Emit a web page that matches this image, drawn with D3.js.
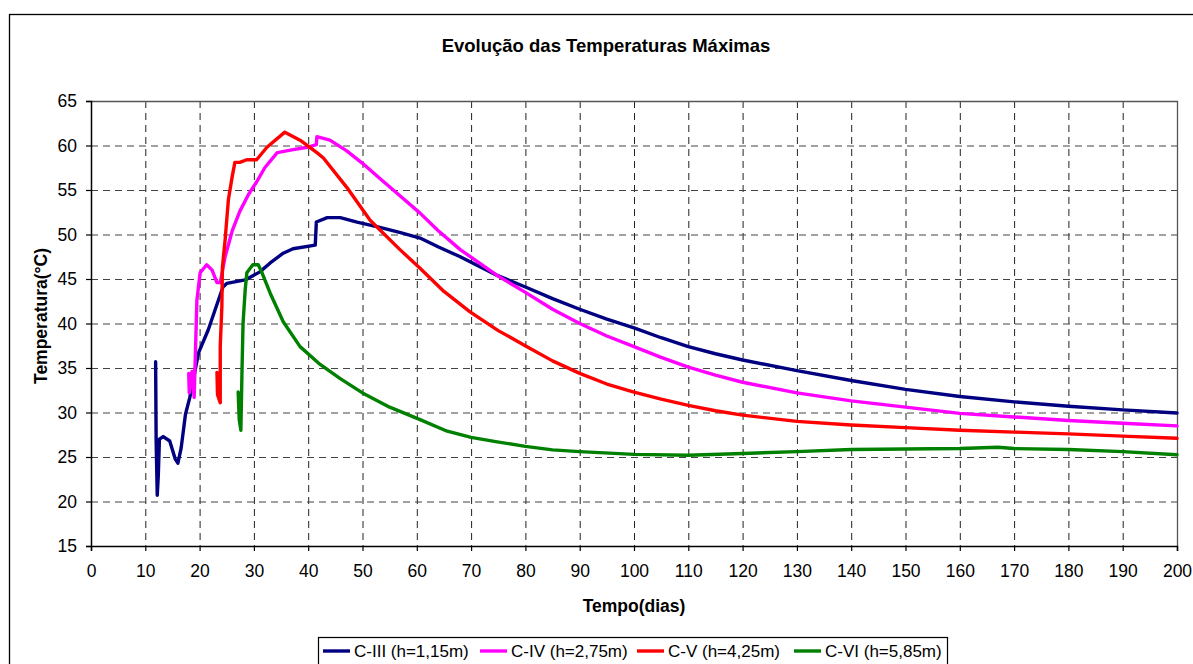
<!DOCTYPE html>
<html>
<head>
<meta charset="utf-8">
<script src="https://cdn.jsdelivr.net/npm/d3@7"></script>
<style>
  html, body { margin: 0; padding: 0; background: #fff; }
  svg { display: block; font-family: "Liberation Sans", Arial, sans-serif; }
</style>
</head>
<body>
<svg id="chart" width="1193" height="664"></svg>
<script>
// Tick values
const xTicks = d3.range(0, 201, 10);
const yTicks = d3.range(15, 66, 5);

// Series: [tempo (dias), temperatura (°C)]
const cIII = [
  [11.9,35.7],[12.0,26.7],[12.2,20.7],[12.4,23.0],[12.6,27.0],[13.3,27.3],[14.5,26.8],
  [15.5,24.8],[16.0,24.3],[16.6,26.0],[17.4,29.8],[18.2,31.7],[19.8,36.7],[21.6,39.3],
  [23.0,41.8],[24.3,44.1],[25.0,44.5],[28.4,44.9],[31.1,45.8],[33.0,46.8],[35.4,47.9],
  [37.2,48.4],[41.3,48.8],[41.5,51.4],[43.5,51.9],[45.9,51.9],[49.0,51.4],[53.2,50.8],
  [57,50.2],[60.6,49.6],[64,48.6],[68.0,47.5],[74.8,45.4],[80,44.1],[85,42.8],[90,41.6],
  [95,40.5],[100,39.5],[105,38.4],[110,37.4],[115,36.6],[120,35.9],[130,34.7],[140,33.6],
  [150,32.6],[160,31.8],[170,31.2],[180,30.7],[190,30.3],[200,29.95]
];
const cIV = [
  [18.0,34.4],[18.1,32.2],[18.6,34.6],[19.0,31.7],[19.5,42.6],[20.1,45.7],[21.3,46.6],
  [22.3,46.0],[23.2,44.6],[23.8,44.6],[24.7,47.5],[26.0,50.4],[27.4,52.6],[29.0,54.5],
  [30.5,55.9],[32.0,57.5],[34.3,59.2],[37,59.5],[39.8,59.8],[41.5,60.1],[41.6,61.0],
  [44.0,60.6],[47.1,59.4],[50,58.0],[53.2,56.3],[57,54.3],[60.6,52.4],[64,50.4],
  [68.0,48.3],[74.8,45.4],[80,43.5],[85,41.6],[90,40.0],[95,38.6],[100,37.4],[105,36.2],
  [110,35.1],[115,34.2],[120,33.4],[130,32.2],[140,31.3],[150,30.6],[160,29.9],[170,29.5],
  [180,29.1],[190,28.8],[200,28.5]
];
const cV = [
  [23.2,34.5],[23.3,32.0],[23.8,31.1],[23.8,37.4],[24.1,41.9],[24.2,46.3],[24.7,49.4],
  [25.3,53.9],[26.0,56.5],[26.5,58.1],[27.4,58.1],[28.7,58.4],[30.5,58.4],[32.4,59.8],
  [35.7,61.5],[38.5,60.6],[41.6,59.2],[42.8,58.6],[47.1,55.3],[51.4,51.6],[56.9,48.3],
  [60.6,46.2],[65,43.6],[69.8,41.3],[75,39.2],[80.3,37.4],[85,35.8],[90,34.4],[95,33.2],
  [100,32.3],[105,31.5],[110,30.8],[115,30.2],[120,29.7],[130,29.0],[140,28.6],[150,28.3],
  [160,28.0],[170,27.8],[180,27.6],[190,27.35],[200,27.1]
];
const cVI = [
  [27.1,32.3],[27.3,29.2],[27.6,28.0],[27.8,34.4],[28.0,40.0],[28.4,43.8],[28.7,45.7],
  [29.8,46.6],[30.8,46.6],[31.5,45.7],[33.0,43.4],[35.4,40.2],[38.5,37.4],[42.2,35.4],
  [45.9,33.8],[50,32.2],[55,30.6],[60.6,29.2],[65.6,27.9],[70,27.2],[74.8,26.7],
  [80,26.2],[85,25.8],[90,25.6],[100,25.3],[110,25.2],[120,25.4],[130,25.6],[140,25.85],
  [150,25.9],[160,25.95],[167,26.1],[170,25.95],[180,25.85],[190,25.6],[200,25.25]
];

const seriesNames = ["C-III (h=1,15m)", "C-IV (h=2,75m)", "C-V (h=4,25m)", "C-VI (h=5,85m)"];
const seriesColors = ["#000080", "#FF00FF", "#FF0000", "#008000"];
const seriesData = [cIII, cIV, cV, cVI];

const svg = d3.select("#chart");

// Outer chart frame
svg.append("rect")
  .attr("x", 9.5).attr("y", 14.5)
  .attr("width", 1200).attr("height", 700)
  .attr("fill", "none").attr("stroke", "#000").attr("stroke-width", 1.3);

const plot = { left: 91, right: 1177, top: 101, bottom: 546 };

const x = d3.scaleLinear().domain([0, 200]).range([plot.left, plot.right]);
const y = d3.scaleLinear().domain([15, 65]).range([plot.bottom, plot.top]);

// Title
svg.append("text")
  .attr("x", 606).attr("y", 52)
  .attr("text-anchor", "middle")
  .attr("font-size", 18.5).attr("font-weight", "bold")
  .text("Evolução das Temperaturas Máximas");

// Grid lines
const grid = svg.append("g");
grid.selectAll("line.v")
  .data(xTicks.filter(d => d > 0 && d < 200))
  .join("line")
  .attr("x1", d => x(d) + 0.5).attr("x2", d => x(d) + 0.5)
  .attr("y1", plot.top).attr("y2", plot.bottom)
  .attr("stroke", "#222").attr("stroke-width", 1)
  .attr("stroke-dasharray", "7,5");
grid.selectAll("line.h")
  .data(yTicks.filter(d => d > 15 && d < 65))
  .join("line")
  .attr("x1", plot.left).attr("x2", plot.right)
  .attr("y1", d => y(d) + 0.5).attr("y2", d => y(d) + 0.5)
  .attr("stroke", "#444").attr("stroke-width", 1)
  .attr("stroke-dasharray", "7,5");

// Plot-area border (top and right)
svg.append("path")
  .attr("d", `M${plot.left},${plot.top + 0.5}H${plot.right + 0.5}V${plot.bottom}`)
  .attr("fill", "none").attr("stroke", "#555").attr("stroke-width", 1.3);

// Axes
const xAxis = d3.axisBottom(x).tickValues(xTicks).tickSize(5).tickPadding(14).tickFormat(d3.format("d"));
const yAxis = d3.axisLeft(y).tickValues(yTicks).tickSize(5).tickPadding(9).tickFormat(d3.format("d"));

const gx = svg.append("g").attr("transform", `translate(0,${plot.bottom})`).call(xAxis);
const gy = svg.append("g").attr("transform", `translate(${plot.left},0)`).call(yAxis);
[gx, gy].forEach(g => {
  g.select(".domain").attr("stroke", "#000").attr("stroke-width", 1.5);
  g.selectAll(".tick line").attr("stroke", "#000").attr("stroke-width", 1.2);
  g.selectAll(".tick text").attr("font-size", 17.5).attr("fill", "#000")
    .attr("font-family", "'Liberation Sans', Arial, sans-serif");
});

// Axis titles
svg.append("text")
  .attr("x", 634).attr("y", 612)
  .attr("text-anchor", "middle")
  .attr("font-size", 17.5).attr("font-weight", "bold")
  .text("Tempo(dias)");
svg.append("text")
  .attr("transform", "translate(47,316) rotate(-90)")
  .attr("text-anchor", "middle")
  .attr("font-size", 17.5).attr("font-weight", "bold")
  .text("Temperatura(°C)");

// Series lines
const line = d3.line().x(d => x(d[0])).y(d => y(d[1]));
const linesG = svg.append("g");
seriesData.forEach((data, i) => {
  linesG.append("path")
    .datum(data)
    .attr("d", line)
    .attr("fill", "none")
    .attr("stroke", seriesColors[i])
    .attr("stroke-width", 3.4)
    .attr("stroke-linejoin", "round")
    .attr("stroke-linecap", "round");
});

// Legend
const legend = svg.append("g");
legend.append("rect")
  .attr("x", 318.5).attr("y", 637.5)
  .attr("width", 629).attr("height", 40)
  .attr("fill", "#fff").attr("stroke", "#000").attr("stroke-width", 1.2);
const legendX = [323, 480, 637, 794];
seriesNames.forEach((name, i) => {
  const g = legend.append("g").attr("transform", `translate(${legendX[i]},651)`);
  g.append("line").attr("x1", 0).attr("x2", 27).attr("y1", 0).attr("y2", 0)
    .attr("stroke", seriesColors[i]).attr("stroke-width", 3.4);
  g.append("text").attr("x", 31).attr("y", 6)
    .attr("font-size", 17).attr("fill", "#000")
    .text(name);
});
</script>
</body>
</html>
